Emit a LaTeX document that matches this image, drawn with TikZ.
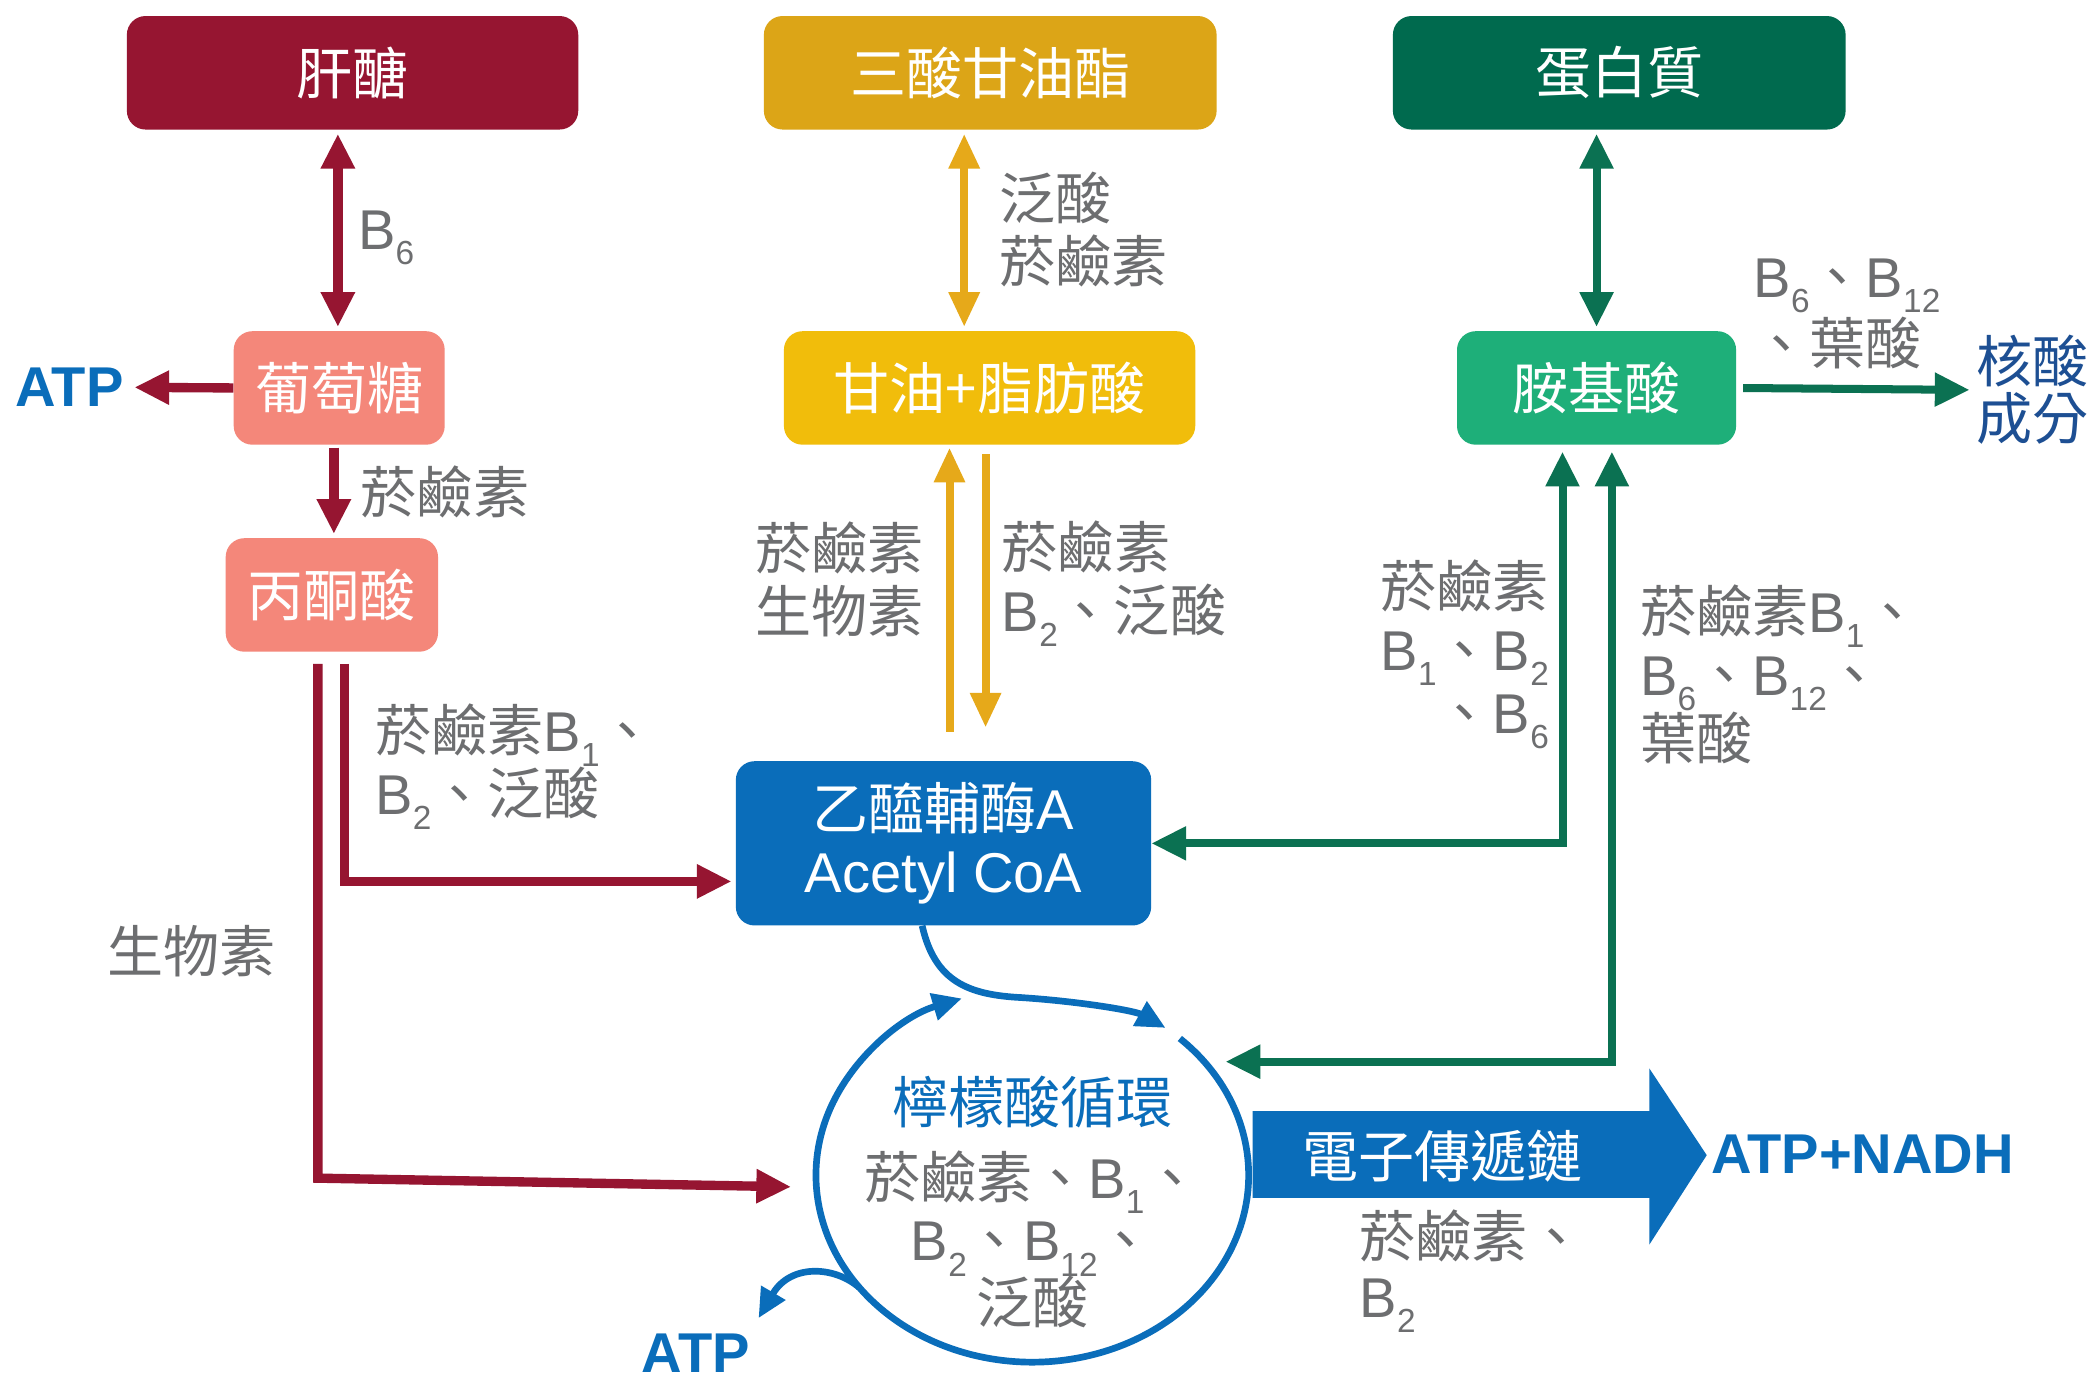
\documentclass[tikz,border=0pt]{standalone}
\usepackage{fontspec}
\usepackage{graphicx}
\setmainfont{Noto Sans CJK TC}
\newfontfamily\lat{Liberation Sans}
\usetikzlibrary{arrows.meta,calc}
\definecolor{dred}{HTML}{961531}
\definecolor{salmon}{HTML}{F4877A}
\definecolor{dgold}{HTML}{DCA517}
\definecolor{bgold}{HTML}{F1BD0B}
\definecolor{agold}{HTML}{E6A91A}
\definecolor{dgreen}{HTML}{006A4E}
\definecolor{agreen}{HTML}{0B7152}
\definecolor{mgreen}{HTML}{1EAF79}
\definecolor{cblue}{HTML}{0A6DBA}
\definecolor{tgray}{HTML}{6D6E70}
\definecolor{navy}{HTML}{1D4F93}
\newcommand\Bs[1]{{\lat B}\raisebox{-0.27em}{\fontsize{25}{25}\selectfont\lat #1}}
\begin{document}
\begin{tikzpicture}[x=1pt,y=-1pt,
  box/.style={rounded corners=14pt, minimum height=85pt, text=white, inner sep=0pt,
    font=\fontsize{42}{47}\selectfont},
  lbl/.style={text=tgray, inner sep=0pt, font=\fontsize{42}{47}\selectfont},
  boldlbl/.style={text=cblue, inner sep=0pt, font=\lat\bfseries\fontsize{42}{44}\selectfont},
  redarr/.style={draw=dred, line width=7pt, arrows={-{Triangle[length=26pt,width=24pt]}}},
  redboth/.style={draw=dred, line width=7pt, arrows={{Triangle[length=26pt,width=24pt]}-{Triangle[length=26pt,width=24pt]}}},
  goldarr/.style={draw=agold, line width=6pt, arrows={-{Triangle[length=26pt,width=22pt]}}},
  goldboth/.style={draw=agold, line width=6pt, arrows={{Triangle[length=26pt,width=22pt]}-{Triangle[length=26pt,width=22pt]}}},
  greenarr/.style={draw=agreen, line width=6pt, arrows={-{Triangle[length=26pt,width=24pt]}}},
  greenboth/.style={draw=agreen, line width=6pt, arrows={{Triangle[length=26pt,width=24pt]}-{Triangle[length=26pt,width=24pt]}}},
  cyc/.style={draw=cblue, line width=5pt},
  cycarr/.style={draw=cblue, line width=5pt, arrows={-{Triangle[length=22pt,width=20pt]}}}
]
\fill[white] (0,0) rectangle (1568,1032);
\useasboundingbox (0,0) rectangle (1568,1032);

% boxes
\node[box, fill=dred, minimum width=338pt] (gly) at (264,54.5) {肝醣};
\node[box, fill=dgold, minimum width=339pt] (tri) at (741.5,54.5) {三酸甘油酯};
\node[box, fill=dgreen, minimum width=339pt] (pro) at (1212.5,54.5) {蛋白質};
\node[box, fill=salmon, minimum width=158pt] (glu) at (254,290.5) {葡萄糖};
\node[box, fill=bgold, minimum width=308pt] (gfa) at (741,290.5) {甘油+脂肪酸};
\node[box, fill=mgreen, minimum width=209pt] (ami) at (1195.5,290.5) {胺基酸};
\node[box, fill=salmon, minimum width=159pt] (pyr) at (248.5,445.5) {丙酮酸};
\node[box, fill=cblue, minimum width=311pt, minimum height=123pt, align=center] (aca) at (706.5,631.5) {乙醯輔酶{\lat A}\\{\lat Acetyl CoA}};

% text nodes
\node[boldlbl] (atpl) at (52,290) {ATP};
\node[text=navy, inner sep=0pt, align=center, font=\fontsize{42}{43}\selectfont] (nuc) at (1522,292) {核酸\\成分};
\node[boldlbl, text depth=0pt, anchor=base] (atpb) at (521,1028) {ATP};
\node[boldlbl, anchor=west] (atpn) at (1281,864) {ATP+NADH};

% cycle
\coordinate (cc) at (773,880);
\coordinate (jn) at ($(cc)+(143:162 and 140)$);
\coordinate (cyin) at ($(cc)+(-37.4:162 and 140)$);
\coordinate (cyl) at ($(cc)+(176.3:162 and 140)$);
\coordinate (cytop) at ($(cc)+(-52:162 and 140)$);
\draw[cyc] ($(cc)+(-47:162 and 140)$) arc[start angle=-47, end angle=143, x radius=162, y radius=140];
\draw[cycarr] (jn) arc[start angle=143, end angle=251, x radius=162, y radius=140];
\draw[cycarr] ([xshift=-16pt]aca.south) .. controls (700,735) and (725,745) .. (765,747) .. controls (810,750) and (850,757) .. (cytop);
\draw[cycarr] (jn) .. controls (625,948) and (592,946) .. (568,987);
\node[text=cblue, inner sep=0pt, font=\fontsize{42}{47}\selectfont] (tca) at (773,825) {檸檬酸循環};
\node[lbl, align=center] (tcal) at (773,928) {菸鹼素、\Bs{1}、\\\Bs{2}、\Bs{12}、\\泛酸};

% electron transport chain arrow
\fill[cblue] (938,832) -- (1235,832) -- (1235,800) -- (1278,865) -- (1235,932) -- (1235,897) -- (938,897) -- cycle;
\node[text=white, inner sep=0pt, font=\fontsize{42}{47}\selectfont] (etc) at (1080,866) {電子傳遞鏈};

% red connectors
\draw[redboth, shorten <=3pt, shorten >=3pt] ([xshift=-1pt]glu.north) -- ([xshift=-1pt]glu.north |- gly.south);
\draw[redarr, shorten >=8pt] (glu.west) -- (atpl.east);
\draw[redarr, shorten <=2pt, shorten >=3pt] ([xshift=-4pt]glu.south) -- ([xshift=-4pt]glu.south |- pyr.north);
\draw[redarr, shorten <=9pt, shorten >=19pt] ([xshift=-10.5pt]pyr.south) -- ++(0,394) -- (cyl);
\draw[redarr, shorten <=9pt, shorten >=3pt] ([xshift=9.5pt]pyr.south) |- ([yshift=-28.5pt]aca.west);

% gold connectors
\draw[goldboth, shorten <=3pt, shorten >=3pt] ([xshift=-19pt]gfa.north) -- ([xshift=-19pt]gfa.north |- tri.south);
\draw[goldarr, shorten <=22pt, shorten >=2pt] ([xshift=4.5pt]aca.north) -- ([xshift=4.5pt]aca.north |- gfa.south);
\draw[goldarr, shorten <=7pt, shorten >=25pt] ([xshift=-3pt]gfa.south) -- ([xshift=-3pt]gfa.south |- aca.north);

% green connectors
\draw[greenboth, shorten <=3pt, shorten >=3pt] (ami.north) -- (ami.north |- pro.south);
\draw[greenarr, shorten <=5pt, shorten >=5pt] (ami.east) -- (nuc.west);
\draw[greenboth, shorten <=5pt] ([xshift=-25.5pt]ami.south) |- (aca.east);
\draw[greenboth, shorten <=5pt, shorten >=16pt] ([xshift=11.5pt]ami.south) |- (cyin);

% labels
\node[lbl, anchor=west] (lb6) at (268,178) {\Bs{6}};
\node[lbl, anchor=west] (lniac) at (270,368) {菸鹼素};
\node[lbl, anchor=west, align=left] (lpyr) at (281,574) {菸鹼素\Bs{1}、\\\Bs{2}、泛酸};
\node[lbl, anchor=west] (lbio) at (80,712) {生物素};
\node[lbl, anchor=west, align=left] (ltri) at (748,172) {泛酸\\菸鹼素};
\node[lbl, anchor=east, align=right] (lgup) at (692,434) {菸鹼素\\生物素};
\node[lbl, anchor=west, align=left] (lgdn) at (750,437) {菸鹼素\\\Bs{2}、泛酸};
\node[lbl, anchor=east, align=right] (lgr1) at (1160,490) {菸鹼素\\\Bs{1}、\Bs{2}\\、\Bs{6}};
\node[lbl, anchor=west, align=left] (lgr2) at (1228,505) {菸鹼素\Bs{1}、\\\Bs{6}、\Bs{12}、\\葉酸};
\node[lbl, anchor=west, align=left, font=\fontsize{42}{50}\selectfont] (lnuc) at (1313,235) {\Bs{6}、\Bs{12}\\、葉酸};
\node[lbl, anchor=west, align=left, font=\fontsize{42}{45}\selectfont] (letc) at (1018,952) {菸鹼素、\\\Bs{2}};
\end{tikzpicture}
\end{document}
